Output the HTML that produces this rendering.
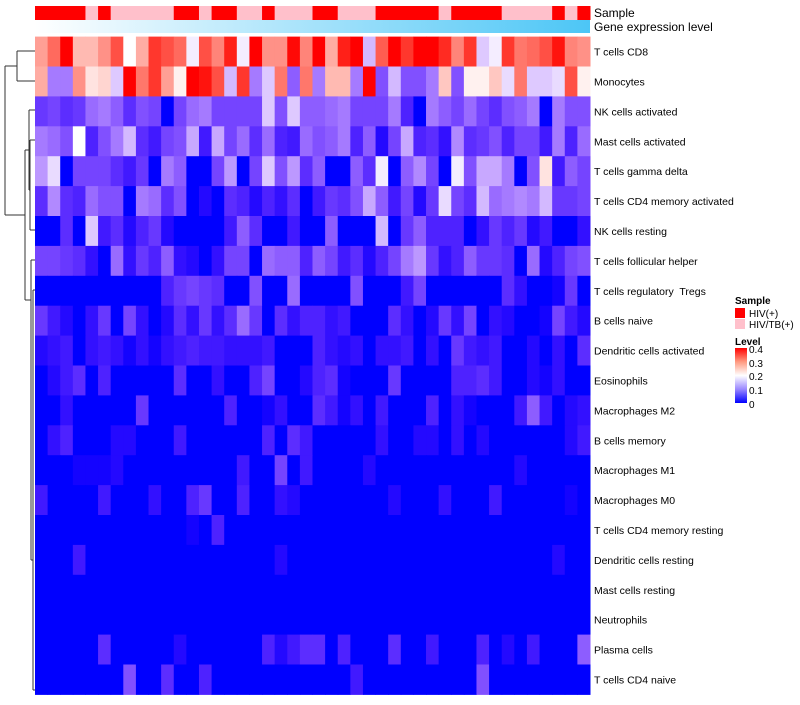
<!DOCTYPE html>
<html><head><meta charset="utf-8"><style>
body{margin:0;background:#fff;width:800px;height:700px;overflow:hidden}
svg{font-family:"Liberation Sans",sans-serif}
text{white-space:pre}
</style></head><body>
<svg id="chart" width="800" height="700" viewBox="0 0 800 700" xmlns="http://www.w3.org/2000/svg">
<defs><linearGradient id="gexp" x1="0" x2="1" y1="0" y2="0"><stop offset="0" stop-color="#ffffff"/><stop offset="1" stop-color="#4cc6f6"/></linearGradient>
<linearGradient id="lvl" x1="0" x2="0" y1="1" y2="0"><stop offset="0" stop-color="#0000ff"/><stop offset="0.25" stop-color="#9a88ff"/><stop offset="0.5" stop-color="#ffffff"/><stop offset="0.75" stop-color="#ff9a80"/><stop offset="1" stop-color="#ff0000"/></linearGradient></defs>
<g id="dendro" stroke="#333" stroke-width="1" fill="none">
<path d="M17,51 H35 M17,81 H35 M17,51 V81 M5,66 H17 M5,66 V215 M5,215 H25 M25,150 V300 M25,150 H29 M25,300 H31 M29,110 V190 M29,110 H35 M29,190 H30 M30,140 V230 M30,140 H35 M30,230 H35 M31,260 V560 M31,260 H35 M31,560 H33 M33,290 V690 M33,290 H35 M33,690 H35"/>
</g>
<g id="cells"></g>
<rect x="35" y="20" width="555" height="13" fill="url(#gexp)"/>
<text x="594" y="17" font-size="12">Sample</text>
<text x="594" y="31" font-size="12">Gene expression level</text>
<g id="labels" font-size="10.5" fill="#000"></g>
<g font-size="10">
<text x="735" y="304" font-weight="bold">Sample</text>
<rect x="735" y="308" width="10" height="10" fill="#ff0000"/>
<text x="749" y="317">HIV(+)</text>
<rect x="735" y="319" width="10" height="10" fill="#ffc0cb"/>
<text x="749" y="328">HIV/TB(+)</text>
<text x="735" y="345" font-weight="bold">Level</text>
<rect x="735" y="348" width="12" height="55" fill="url(#lvl)"/>
<text x="749" y="353">0.4</text>
<text x="749" y="367">0.3</text>
<text x="749" y="380">0.2</text>
<text x="749" y="394">0.1</text>
<text x="749" y="408">0</text>
</g>
</svg>
<script>
const rowNames=["T cells CD8","Monocytes","NK cells activated","Mast cells activated","T cells gamma delta","T cells CD4 memory activated","NK cells resting","T cells follicular helper","T cells regulatory  Tregs","B cells naive","Dendritic cells activated","Eosinophils","Macrophages M2","B cells memory","Macrophages M1","Macrophages M0","T cells CD4 memory resting","Dendritic cells resting","Mast cells resting","Neutrophils","Plasma cells","T cells CD4 naive"];
const sampleGroups="RRRRPRPPPPPRRPRRPPRPPPRRPPPRRRRRPRRRRPPPPRPR";
const r1=[.27,.31,.4,.25,.25,.28,.33,.2,.26,.35,.33,.31,.19,.33,.29,.37,.19,.4,.28,.28,.39,.29,.4,.26,.37,.4,.16,.32,.4,.35,.4,.4,.36,.29,.35,.17,.19,.35,.3,.31,.33,.38,.29,.28];
const r2=[.26,.12,.12,.28,.22,.23,.17,.4,.3,.35,.27,.21,.4,.38,.33,.16,.35,.12,.17,.3,.1,.3,.12,.25,.25,.12,.4,.09,.16,.09,.09,.12,.24,.09,.21,.21,.24,.18,.3,.17,.17,.18,.33,.21];
const r3=[.07,.08,.06,.07,.11,.12,.1,.06,.09,.08,0,.08,.11,.12,.08,.08,.08,.08,.17,.09,.17,.1,.1,.11,.12,.08,.08,.08,.12,.05,0,.12,.1,.08,.11,.08,.06,.09,.1,.12,0,.12,.09,.09];
const r4=[.12,.11,.09,.2,.05,.09,.12,.16,.06,.04,.08,.09,.15,.04,.15,.08,.11,.06,.11,.05,.04,.11,.09,.1,.12,.05,.1,.02,.08,.15,.05,.06,.03,.13,.06,.07,.09,.05,.08,.08,.04,.12,.05,.11];
const r5=[.14,.18,0,.08,.08,.08,.06,.04,.07,0,.12,.1,0,0,.08,.14,0,.08,.17,.09,.14,.06,.1,0,0,.1,.06,.19,0,.1,.13,.08,0,.19,.09,.15,.15,.12,0,.09,.22,.04,.1,.08];
const r6=[.06,.13,.06,.05,.11,.09,.09,0,.12,.11,.06,.09,0,.02,0,.06,.05,.02,.05,.03,.06,0,.04,.07,.06,.09,.15,.1,.04,.08,.02,.07,.18,.08,.06,.16,.11,.12,.13,.12,.16,.07,.07,.08];
const r7=[0,0,.06,0,.17,.04,.06,.02,.05,.07,.02,0,0,0,0,.04,.1,.06,0,0,.04,0,0,.1,0,0,0,.16,0,.07,.1,.05,.05,.05,0,.03,.07,.05,.07,.02,.04,0,0,.03];
const r8=[.08,.08,.07,.06,.03,0,.11,.03,.07,.05,.1,.03,.02,0,.03,.08,.08,0,.11,.1,.1,.05,.1,.08,.04,.06,.02,.05,.08,.12,.14,.07,.03,.05,.1,.07,.07,.06,0,.11,.02,.05,.08,.09];
const r9=[0,0,0,0,0,0,0,0,0,0,.05,.07,.08,.07,.06,0,0,.09,0,0,.11,0,0,0,0,.09,0,0,0,.04,.08,0,0,0,0,0,0,.06,.03,0,0,.01,.07,0];
const r10=[.07,.04,.02,0,.03,.07,0,.08,.03,0,.02,.06,.03,.07,.03,.06,.11,.07,0,.06,.03,.05,.05,.03,.04,0,0,0,.06,.03,0,.02,.07,.03,.08,0,.03,.02,0,0,.01,.08,.04,.02];
const r11=[.02,.03,.04,0,.03,.04,.03,.01,.03,.01,.03,.04,.05,.04,.04,.03,.03,.03,.04,0,0,0,.05,.03,.02,.03,0,.03,.03,.04,0,.03,0,.07,.04,.03,.04,0,0,.02,0,.03,0,.06];
const r12=[0,.02,.04,.06,0,.05,0,0,0,0,0,.06,0,0,.03,0,0,.05,.08,0,0,.02,.05,.06,.01,0,0,0,.07,0,0,0,0,.05,.05,.06,.04,0,0,.02,.01,.03,0,0];
const r13=[0,0,.03,0,0,0,0,0,.07,0,0,0,0,0,0,.05,0,0,.01,.03,0,0,.06,.04,.01,.03,0,.04,0,0,0,.05,0,.03,.01,0,0,0,.04,.1,.04,0,.02,.03];
const r14=[0,.03,.05,0,0,0,.02,.02,0,0,0,.04,0,0,0,0,0,0,.05,0,.06,.04,0,0,0,0,0,.03,0,0,.02,.02,0,.03,0,.02,0,0,0,0,0,0,.02,.04];
const r15=[0,0,0,.01,.01,.01,.02,0,0,0,0,0,0,0,0,0,.04,0,0,.08,0,.04,0,0,0,0,.02,0,0,0,0,0,0,0,0,0,0,0,.02,0,0,0,0,0];
const r16=[.04,0,0,0,0,.04,0,0,0,.03,0,0,.05,.07,0,0,.05,0,0,.03,.02,0,0,0,0,0,0,0,.02,0,0,0,.03,0,0,0,.04,0,0,0,0,0,.01,0];
const r17=[0,0,0,0,0,0,0,0,0,0,0,0,.01,0,.05,0,0,0,0,0,0,0,0,0,0,0,0,0,0,0,0,0,0,0,0,0,0,0,0,0,0,0,0,0];
const r18=[0,0,0,.04,0,0,0,0,0,0,0,0,0,0,0,0,0,0,0,.02,0,0,0,0,0,0,0,0,0,0,0,0,0,0,0,0,0,0,0,0,0,.02,0,0];
const r19=[0,0,0,0,0,0,0,0,0,0,0,0,0,0,0,0,0,0,0,0,0,0,0,0,0,0,0,0,0,0,0,0,0,0,0,0,0,0,0,0,0,0,0,0];
const r20=[0,0,0,0,0,0,0,0,0,0,0,0,0,0,0,0,0,0,0,0,0,0,0,0,0,0,0,0,0,0,0,0,0,0,0,0,0,0,0,0,0,0,0,0];
const r21=[0,0,0,0,0,.06,0,0,0,0,0,.02,0,0,0,0,0,0,.05,.02,.04,.06,.06,0,.05,0,0,0,.06,0,0,.04,0,0,0,.05,0,.02,0,.04,0,0,0,.1];
const r22=[0,0,0,0,0,0,0,.09,0,0,.06,0,0,.05,0,0,0,0,0,0,0,0,0,0,0,.04,0,0,0,0,0,0,0,0,0,.09,0,0,0,0,0,0,0,0];
const matrix=[r1,r2,r3,r4,r5,r6,r7,r8,r9,r10,r11,r12,r13,r14,r15,r16,r17,r18,r19,r20,r21,r22];

const X0=35,X1=590,Y0=36.6,RH=29.9,SY=6,SH=14;
const nCol=sampleGroups.length;
const cw=(X1-X0)/nCol;
function xPos(c){return X0+c*cw;}
function yPos(r){return Y0+r*RH;}
function color(v){
  v=Math.max(0,Math.min(0.4,v));
  let r,g,b;
  if(v<=0.2){const t=v/0.2;r=255*Math.pow(t,0.85);g=255*Math.pow(t,1.45);b=255;}
  else{const t=(v-0.2)/0.2;r=255;g=255*Math.pow(1-t,1.1);b=255*Math.pow(1-t,1.25);}
  return `rgb(${Math.round(r)},${Math.round(g)},${Math.round(b)})`;
}
const NS="http://www.w3.org/2000/svg";
const cells=document.getElementById('cells');
for(let c=0;c<nCol;c++){
  const el=document.createElementNS(NS,'rect');
  el.setAttribute('x',xPos(c));el.setAttribute('y',SY);
  el.setAttribute('width',cw+0.5);el.setAttribute('height',SH);
  el.setAttribute('fill',sampleGroups[c]==='R'?'#ff0000':'#ffc0cb');
  
  
  cells.appendChild(el);
}
matrix.forEach((row,r)=>{
  row.forEach((v,c)=>{
    const el=document.createElementNS(NS,'rect');
    el.setAttribute('x',xPos(c));el.setAttribute('y',yPos(r));
    el.setAttribute('width',cw+0.5);el.setAttribute('height',RH+0.5);
    el.setAttribute('fill',color(v));
    
    
    cells.appendChild(el);
  });
});
const labels=document.getElementById('labels');
rowNames.forEach((n,r)=>{
  const t=document.createElementNS(NS,'text');
  t.setAttribute('x',594);t.setAttribute('y',yPos(r)+RH/2+4);
  t.textContent=n;
  
  
  labels.appendChild(t);
});
</script>
</body></html>
